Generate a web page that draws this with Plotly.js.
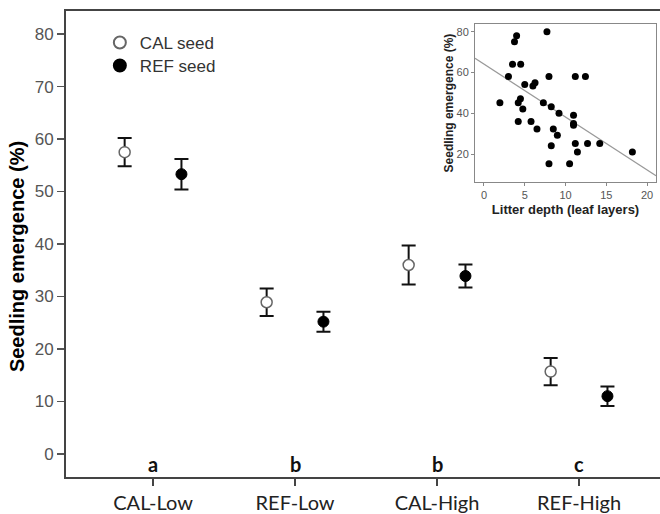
<!DOCTYPE html>
<html>
<head>
<meta charset="utf-8">
<script src="https://cdn.plot.ly/plotly-3.0.1.min.js"></script>
<style>html,body{margin:0;padding:0;background:#fff}#chart{width:660px;height:514px}</style>
</head>
<body>
<div id="chart"></div>
<script>
// ---- Main chart data ----
const categories = ['CAL-Low', 'REF-Low', 'CAL-High', 'REF-High'];
const calMean = [57.5, 28.9, 36.0, 15.7];
const calErr  = [2.7, 2.6, 3.7, 2.6];
const refMean = [53.3, 25.2, 33.9, 11.0];
const refErr  = [2.9, 1.9, 2.2, 1.85];
const letters = ['a', 'b', 'b', 'c'];
const yTicks = [0, 10, 20, 30, 40, 50, 60, 70, 80];

// ---- Inset data ----
const litterDepth = [1.95, 3.0, 3.5, 3.74, 4.0, 4.2, 4.2, 4.47, 4.5, 4.76, 5.0, 5.77, 6.0, 6.26, 6.5, 7.28, 7.72, 7.97, 7.97, 8.25, 8.25, 8.5, 9.0, 9.2, 10.5, 10.98, 10.98, 10.98, 11.2, 11.2, 11.46, 12.44, 12.7, 14.2, 18.2];
const emergence   = [45.2, 58.1, 64.1, 75.1, 78.0, 36.0, 45.2, 47.1, 64.1, 42.1, 54.2, 36.0, 53.4, 55.0, 32.3, 45.2, 80.0, 58.1, 15.3, 43.2, 24.1, 32.3, 29.2, 40.1, 15.3, 39.1, 35.0, 34.1, 58.1, 25.2, 21.0, 58.1, 25.2, 25.2, 21.0];
const fitX = [-1.1, 21.1];
const fitY = [67.0, 9.4];
const insetXTicks = [0, 5, 10, 15, 20];
const insetYTicks = [20, 40, 60, 80];

const idx = categories.map((c, i) => i);
const offset = 0.2;

const traces = [
  {
    type: 'scatter', mode: 'markers', name: 'CAL seed', legend: 'legend',
    x: idx.map(i => i - offset), y: calMean,
    error_y: {type: 'data', array: calErr, visible: true, color: '#111', thickness: 2, width: 7},
    marker: {symbol: 'circle', size: 11, color: '#fff', line: {color: '#666', width: 1.5}},
    xaxis: 'x', yaxis: 'y'
  },
  {
    type: 'scatter', mode: 'markers', name: 'REF seed', legend: 'legend2',
    x: idx.map(i => i + offset), y: refMean,
    error_y: {type: 'data', array: refErr, visible: true, color: '#111', thickness: 2, width: 7},
    marker: {symbol: 'circle', size: 11, color: '#000', line: {color: '#000', width: 1}},
    xaxis: 'x', yaxis: 'y'
  },
  {
    type: 'scatter', mode: 'lines', x: fitX, y: fitY, showlegend: false,
    line: {color: '#999', width: 1.2}, xaxis: 'x2', yaxis: 'y2', hoverinfo: 'skip'
  },
  {
    type: 'scatter', mode: 'markers', x: litterDepth, y: emergence, showlegend: false,
    marker: {symbol: 'circle', size: 7, color: '#000'}, xaxis: 'x2', yaxis: 'y2'
  }
];

const annotations = letters.map((t, i) => ({
  x: i, y: -1.9, xref: 'x', yref: 'y', text: '<b>' + t + '</b>', showarrow: false,
  font: {family: 'Lato, sans-serif', size: 20, color: '#111'}, xanchor: 'center', yanchor: 'middle'
}));
annotations.push({
  x: -0.0825, y: 0.474, xref: 'paper', yref: 'paper', text: '<b>Seedling emergence (%)</b>',
  textangle: -90, showarrow: false, xanchor: 'center', yanchor: 'middle',
  font: {family: 'Liberation Sans, Arial, sans-serif', size: 20, color: '#000'}
});

const legendFont = {family: 'Liberation Sans, Arial, sans-serif', size: 17, color: '#333'};

const layout = {
  width: 660, height: 514,
  margin: {l: 66, r: 0, t: 11, b: 37},
  paper_bgcolor: '#fff', plot_bgcolor: '#fff',
  showlegend: true,
  legend: {
    x: 0.057, y: 0.970, xanchor: 'left', yanchor: 'top',
    font: legendFont, bgcolor: 'rgba(0,0,0,0)', itemsizing: 'constant'
  },
  legend2: {
    x: 0.057, y: 0.9206, xanchor: 'left', yanchor: 'top',
    font: legendFont, bgcolor: 'rgba(0,0,0,0)', itemsizing: 'constant'
  },
  xaxis: {
    range: [-0.613, 3.57], tickmode: 'array', tickvals: idx, ticktext: categories,
    showgrid: false, zeroline: false, showline: true, mirror: true, linecolor: '#444', linewidth: 2,
    ticks: 'outside', ticklen: 7, tickwidth: 1.5, tickcolor: '#444',
    tickfont: {family: 'Lato, sans-serif', size: 20, color: '#222'}, domain: [0, 1]
  },
  yaxis: {
    range: [-4.4, 84.4], tickmode: 'array', tickvals: yTicks,
    showgrid: false, zeroline: false, showline: true, linecolor: '#444', linewidth: 2,
    ticks: 'outside', ticklen: 7, tickwidth: 1.5, tickcolor: '#555',
    tickfont: {family: 'Liberation Sans, Arial, sans-serif', size: 17, color: '#555'}, domain: [0, 1]
  },
  xaxis2: {
    anchor: 'y2', domain: [0.6886, 0.9933], range: [-1.1, 21.1],
    tickmode: 'array', tickvals: insetXTicks,
    showgrid: false, zeroline: false, showline: true, mirror: true, linecolor: '#888', linewidth: 1,
    ticks: 'outside', ticklen: 3, tickcolor: '#888',
    tickfont: {family: 'Liberation Sans, Arial, sans-serif', size: 11, color: '#555'},
    title: {text: '<b>Litter depth (leaf layers)</b>', standoff: 4,
      font: {family: 'Liberation Sans, Arial, sans-serif', size: 13, color: '#222'}}
  },
  yaxis2: {
    anchor: 'x2', domain: [0.633, 0.972], range: [6.3, 83.8],
    tickmode: 'array', tickvals: insetYTicks,
    showgrid: false, zeroline: false, showline: true, mirror: true, linecolor: '#888', linewidth: 1,
    ticks: 'outside', ticklen: 3, tickcolor: '#888',
    tickfont: {family: 'Liberation Sans, Arial, sans-serif', size: 11, color: '#555'},
    title: {text: '<b>Seedling emergence (%)</b>', standoff: 0,
      font: {family: 'Liberation Sans, Arial, sans-serif', size: 12, color: '#222'}}
  },
  annotations: annotations
};

Plotly.newPlot('chart', traces, layout, {displayModeBar: false, staticPlot: true});
</script>
</body>
</html>
